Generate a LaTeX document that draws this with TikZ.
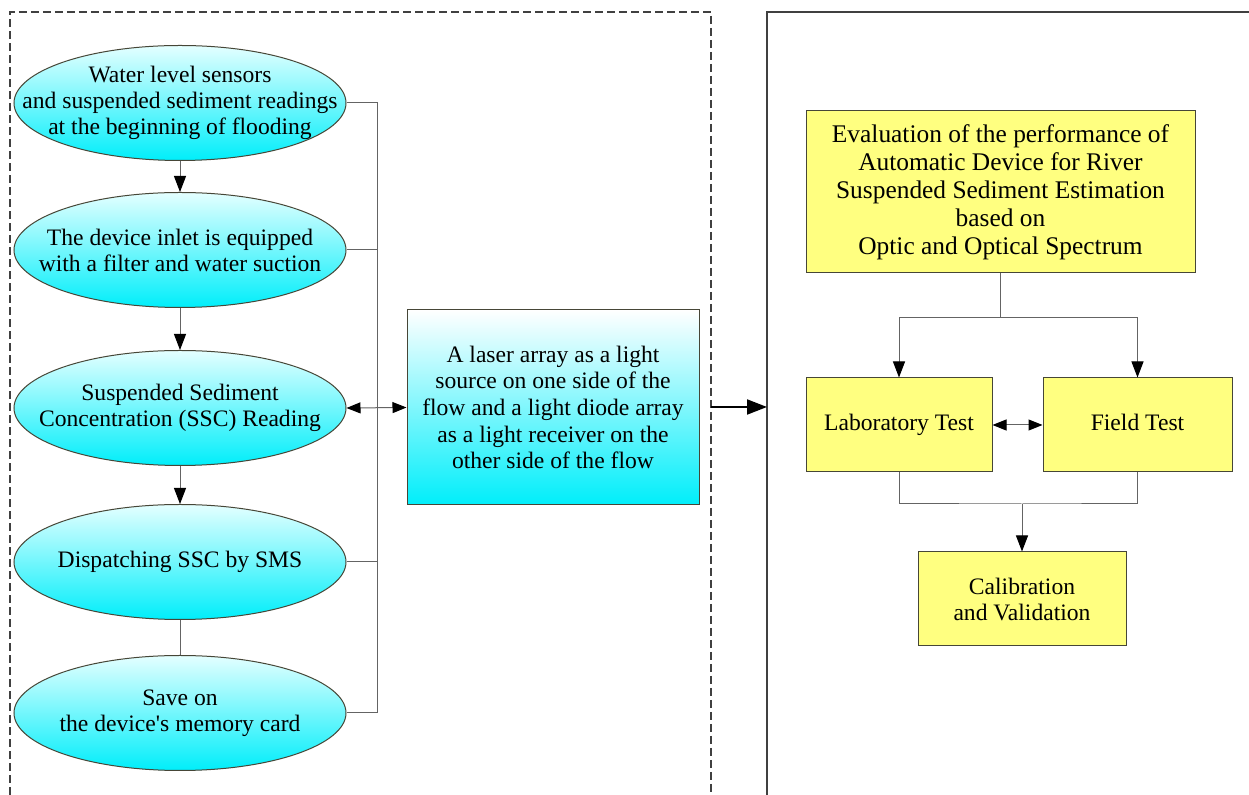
\documentclass[tikz,border=0pt]{standalone}
\usepackage{fontspec}
\setmainfont{Liberation Serif}
\usetikzlibrary{shapes.geometric,arrows.meta}
\definecolor{cyanbot}{RGB}{0,238,250}
\definecolor{cyantop}{RGB}{228,255,255}
\definecolor{yfill}{RGB}{255,255,128}
\definecolor{bordc}{RGB}{70,70,55}
\definecolor{connc}{RGB}{100,100,100}
\tikzset{
  ell/.style={ellipse, draw=bordc, line width=0.5pt, top color=cyantop, bottom color=cyanbot,
    minimum width=166pt, minimum height=57.5pt, inner sep=0pt},
  txt/.style={align=center, inner sep=0pt, font=\fontsize{11.8}{13}\selectfont},
  cbox/.style={rectangle, draw=bordc, line width=0.5pt, top color=white, bottom color=cyanbot,
    inner sep=0pt, align=center, font=\fontsize{11.8}{13.3}\selectfont},
  ybox/.style={rectangle, draw=bordc, line width=0.5pt, fill=yfill,
    inner sep=0pt, align=center, font=\fontsize{11.8}{13}\selectfont},
  oneline/.style={text height=1.55ex, text depth=0.45ex},
  bigfont/.style={font=\fontsize{12.7}{14}\selectfont},
  conn/.style={draw=connc, line width=0.5pt},
  tipa/.tip={Triangle[length=8pt,width=6pt,color=black]},
  tipb/.tip={Triangle[length=7pt,width=5.5pt,color=black]},
  arr/.style={conn, -tipa},
  darr/.style={conn, tipb-tipb},
}
\begin{document}
\begin{tikzpicture}[x=0.5pt,y=-0.5pt]
\useasboundingbox (0,0) rectangle (1249,795);
\fill[white] (0,0) rectangle (1249,795);
% frames
\coordinate (dfbl) at (10,795);
\coordinate (dftl) at (10,12);
\coordinate (dftr) at (711,12);
\coordinate (dfbr) at (711,795);
\draw[black!75, line width=0.6pt, dash pattern=on 4pt off 2pt] (dfbl) -- (dftl) -- (dftr) -- (dfbr);
\coordinate (sfbl) at (767,795);
\coordinate (sftl) at (767,12);
\coordinate (sftr) at (1249,12);
\draw[black!75, line width=0.6pt] (sfbl) -- (sftl) -- (sftr);
% ellipses
\node[ell] (e1) at (180,103) {};
\node[txt] (t1) at (e1) {Water level sensors\\and suspended sediment readings\\at the beginning of flooding};
\node[ell] (e2) at (180,250) {};
\node[txt] (t2) at (e2) {The device inlet is equipped\\with a filter and water suction};
\node[ell] (e3) at (180,408) {};
\node[txt] (t3) at (e3) {Suspended Sediment\\Concentration (SSC) Reading};
\node[ell] (e4) at (180,562) {};
\node[txt, oneline] (t4) at (e4) {Dispatching SSC by SMS};
\node[ell] (e5) at (180,713) {};
\node[txt] (t5) at (e5) {Save on\\the device\textquotesingle s memory card};
% laser box
\node[cbox, minimum width=146pt, minimum height=97.5pt] (laser) at (553,407.5)
  {A laser array as a light\\source on one side of the\\flow and a light diode array\\as a light receiver on the\\other side of the flow};
% yellow boxes
\node[ybox, bigfont, minimum width=194.5pt, minimum height=81pt] (eval) at (1000.5,192)
  {Evaluation of the performance of\\Automatic Device for River\\Suspended Sediment Estimation\\based on\\Optic and Optical Spectrum};
\node[ybox, oneline, minimum width=93pt, minimum height=47pt] (lab) at (899,425) {Laboratory Test};
\node[ybox, oneline, minimum width=94.5pt, minimum height=47pt] (field) at (1137.5,425) {Field Test};
\node[ybox, minimum width=104pt, minimum height=47pt] (calib) at (1022,599) {Calibration\\and Validation};
% left connectors
\draw[arr] (e1) -- (e2);
\draw[arr] (e2) -- (e3);
\draw[arr] (e3) -- (e4);
\draw[conn] (e4) -- (e5);
\coordinate (bustop) at (377,103);
\coordinate (busbot) at (377,713);
\draw[conn] (e1.east) -- (bustop) -- (busbot) -- (e5.east);
\draw[conn] (e2.east) -- (e2.east -| bustop);
\draw[conn] (e4.east) -- (e4.east -| bustop);
\draw[darr] (e3.east) -- (laser.west);
% middle arrow
\coordinate (mida) at (711,407);
\coordinate (midb) at (767,407);
\draw[draw=black, line width=1pt, -{Triangle[length=10pt,width=7.5pt]}] (mida) -- (midb);
% right connectors
\coordinate (split) at (1000,318);
\draw[conn] (eval.south -| split) -- (split);
\draw[arr] (split) -| (lab.north);
\draw[arr] (split) -| (field.north);
\draw[darr] (lab.east) -- (field.west);
\coordinate (join) at (1022,504);
\draw[conn] (lab.south) |- (join) -| (field.south);
\draw[arr] (join) -- (calib.north);
\end{tikzpicture}
\end{document}
